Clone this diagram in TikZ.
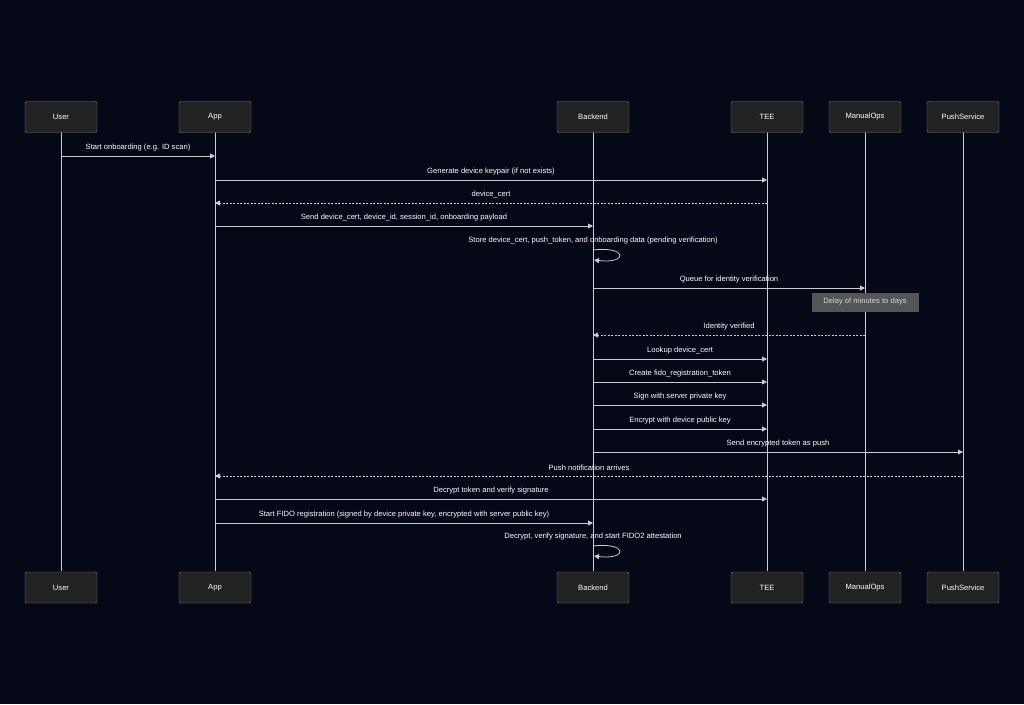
\documentclass[tikz,border=0pt]{standalone}
\usepackage{fontspec}
\setmainfont{Liberation Sans}
\usetikzlibrary{arrows.meta}

\definecolor{bgcol}{HTML}{050816}
\definecolor{boxcol}{HTML}{222222}
\definecolor{boxline}{HTML}{808080}
\definecolor{linecol}{HTML}{CCCCCC}
\definecolor{notecol}{HTML}{555555}

\tikzset{
  actor/.style={draw=boxline, fill=boxcol, rounded corners=1.5pt, minimum width=72pt, minimum height=31pt, text=white, font=\fontsize{7.6}{9}\selectfont},
  msg/.style={draw=linecol, line width=0.8pt, -{Triangle[length=5pt,width=5pt]}},
  reply/.style={msg, dashed, dash pattern=on 2pt off 1.5pt},
  lbl/.style={text=white, font=\fontsize{7.6}{9}\selectfont, inner sep=0pt},
  notebox/.style={fill=notecol, draw=notecol, text=white!85!black, font=\fontsize{7.6}{9}\selectfont, minimum width=106pt, minimum height=18pt}
}

\begin{document}
\begin{tikzpicture}[x=1pt,y=-1pt]
    \fill[bgcol] (0,0) rectangle (1024,704);
    \useasboundingbox (0,0) rectangle (1024,704);

    % participants and lifelines
    \foreach \name/\xx in {User/61, App/215, Backend/593, TEE/767, ManualOps/865, PushService/963} {
        \draw[linecol, line width=0.8pt] (\xx,132) -- (\xx,571);
        \node[actor] (\name-top) at (\xx,117) {\name};
        \node[actor] (\name-bot) at (\xx,587.5) {\name};
        \coordinate (\name) at (\xx,0);
    }

    % messages
    \draw[msg] (User |- 0,156) -- (App |- 0,156) node[lbl, midway, above=5pt] {Start onboarding (e.g. ID scan)};
    \draw[msg] (App |- 0,180) -- (TEE |- 0,180) node[lbl, midway, above=5pt] {Generate device keypair (if not exists)};
    \draw[reply] (TEE |- 0,203) -- (App |- 0,203) node[lbl, midway, above=5pt] {device\_cert};
    \draw[msg] (App |- 0,226) -- (Backend |- 0,226) node[lbl, midway, above=5pt] {Send device\_cert, device\_id, session\_id, onboarding payload};

    \node[lbl] (store) at (593,241) {Store device\_cert, push\_token, and onboarding data (pending verification)};
    \draw[msg] (593,250) .. controls (628,246) and (628,264) .. (594,260);

    \draw[msg] (Backend |- 0,288) -- (ManualOps |- 0,288) node[lbl, midway, above=5pt] {Queue for identity verification};
    \node[notebox] (delay) at (865,302) {Delay of minutes to days};
    \draw[reply] (ManualOps |- 0,335) -- (Backend |- 0,335) node[lbl, midway, above=5pt] {Identity verified};

    \draw[msg] (Backend |- 0,359) -- (TEE |- 0,359) node[lbl, midway, above=5pt] {Lookup device\_cert};
    \draw[msg] (Backend |- 0,382) -- (TEE |- 0,382) node[lbl, midway, above=5pt] {Create fido\_registration\_token};
    \draw[msg] (Backend |- 0,405) -- (TEE |- 0,405) node[lbl, midway, above=5pt] {Sign with server private key};
    \draw[msg] (Backend |- 0,429) -- (TEE |- 0,429) node[lbl, midway, above=5pt] {Encrypt with device public key};
    \draw[msg] (Backend |- 0,452) -- (PushService |- 0,452) node[lbl, midway, above=5pt] {Send encrypted token as push};
    \draw[reply] (PushService |- 0,476) -- (App |- 0,476) node[lbl, midway, above=5pt] {Push notification arrives};
    \draw[msg] (App |- 0,499) -- (TEE |- 0,499) node[lbl, midway, above=5pt] {Decrypt token and verify signature};
    \draw[msg] (App |- 0,523) -- (Backend |- 0,523) node[lbl, midway, above=5pt] {Start FIDO registration (signed by device private key, encrypted with server public key)};

    \node[lbl] (attest) at (593,537) {Decrypt, verify signature, and start FIDO2 attestation};
    \draw[msg] (593,546) .. controls (628,542) and (628,560) .. (594,556);
\end{tikzpicture}
\end{document}
